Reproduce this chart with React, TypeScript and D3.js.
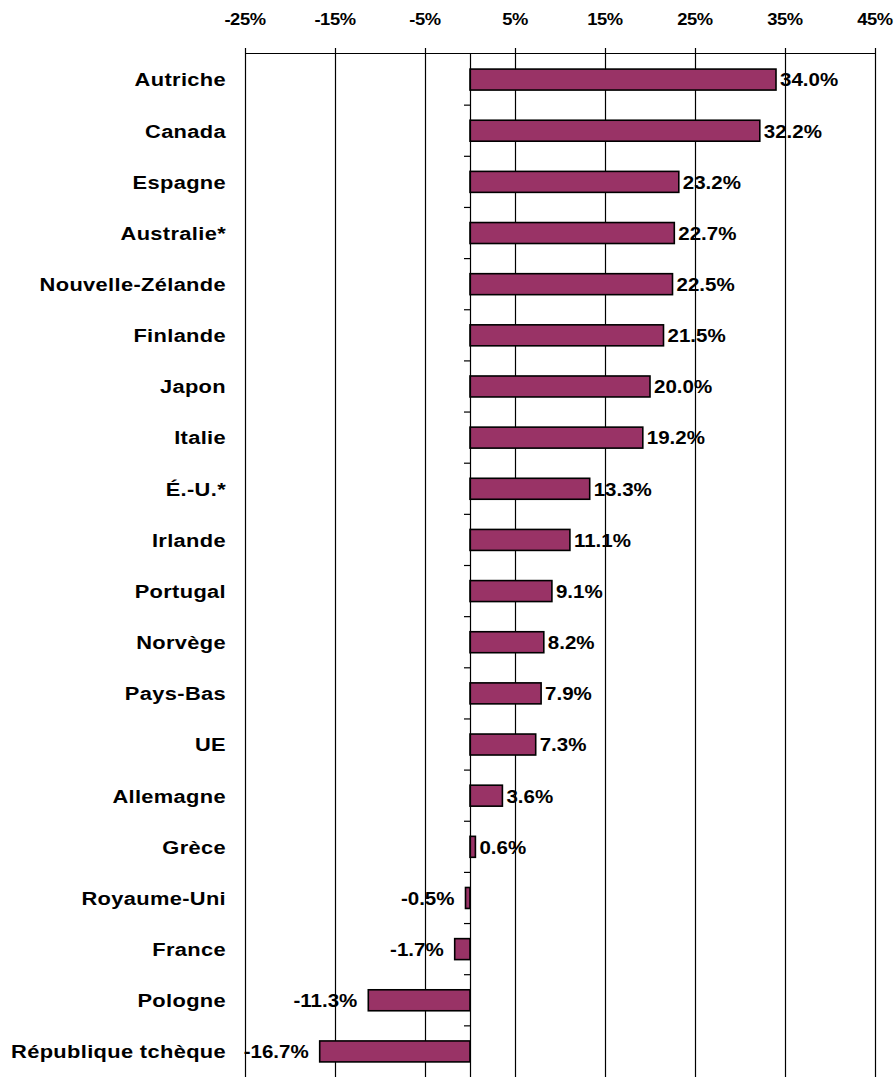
import React, { useEffect, useRef } from 'react'
import * as d3 from 'd3'

const countries = [
    'Autriche', 'Canada', 'Espagne', 'Australie*', 'Nouvelle-Zélande', 'Finlande', 'Japon',
    'Italie', 'É.-U.*', 'Irlande', 'Portugal', 'Norvège', 'Pays-Bas', 'UE', 'Allemagne',
    'Grèce', 'Royaume-Uni', 'France', 'Pologne', 'République tchèque'
]
const growth = [
    34.0, 32.2, 23.2, 22.7, 22.5, 21.5, 20.0, 19.2, 13.3, 11.1, 9.1, 8.2, 7.9, 7.3, 3.6,
    0.6, -0.5, -1.7, -11.3, -16.7
]
const tickValues = [-25, -15, -5, 5, 15, 25, 35, 45]

const App = () => {
    const ref = useRef<SVGSVGElement>(null)

    useEffect(() => {
        drawChart()
    }, [])

    const drawChart = () => {
        const width = 896
        const height = 1077
        const top = 53
        const font = '"Liberation Sans", Arial, sans-serif'

        const svg = d3.select(ref.current)
        svg.selectAll('*').remove()

        const x = d3.scaleLinear().domain([-25, 45]).range([245, 875])
        const y = d3.scaleBand<string>()
            .domain(countries)
            .range([top + 1, height])
            .paddingInner(0.59)
            .paddingOuter(0.295)

        // gridlines
        svg.append('g')
            .selectAll('line')
            .data(tickValues)
            .enter()
            .append('line')
            .attr('x1', d => x(d) + 0.5)
            .attr('x2', d => x(d) + 0.5)
            .attr('y1', top - 5)
            .attr('y2', height)
            .attr('stroke', '#000')
            .attr('stroke-width', 1.2)

        // top axis line
        svg.append('line')
            .attr('x1', x(-25))
            .attr('x2', x(45) + 1)
            .attr('y1', top + 0.5)
            .attr('y2', top + 0.5)
            .attr('stroke', '#000')
            .attr('stroke-width', 1.2)

        svg.append('g')
            .selectAll('text')
            .data(tickValues)
            .enter()
            .append('text')
            .text(d => `${d}%`)
            .attr('transform', d => `translate(${x(d)},25) scale(1.08,1)`)
            .attr('text-anchor', 'middle')
            .attr('font-family', font)
            .attr('font-weight', 'bold')
            .attr('font-size', 17)
            .attr('letter-spacing', -0.4)

        // bars
        const data = countries.map((c, i) => ({ c, v: growth[i] }))
        svg.append('g')
            .selectAll('rect')
            .data(data)
            .enter()
            .append('rect')
            .attr('x', d => x(Math.min(0, d.v)))
            .attr('y', d => y(d.c)!)
            .attr('width', d => Math.abs(x(d.v) - x(0)))
            .attr('height', y.bandwidth())
            .attr('fill', '#993366')
            .attr('stroke', '#000')
            .attr('stroke-width', 1.6)

        // zero axis with minor ticks
        svg.append('line')
            .attr('x1', x(0) + 0.5)
            .attr('x2', x(0) + 0.5)
            .attr('y1', top)
            .attr('y2', height)
            .attr('stroke', '#000')
            .attr('stroke-width', 1.2)
        svg.append('g')
            .selectAll('line')
            .data(countries.slice(1))
            .enter()
            .append('line')
            .attr('x1', x(0) - 6)
            .attr('x2', x(0))
            .attr('y1', d => y(d)! - y.step() * 0.295)
            .attr('y2', d => y(d)! - y.step() * 0.295)
            .attr('stroke', '#000')
            .attr('stroke-width', 1.2)

        // category labels
        svg.append('g')
            .selectAll('text')
            .data(countries)
            .enter()
            .append('text')
            .text(d => d)
            .attr('transform', d => `translate(226,${y(d)! + y.bandwidth() / 2}) scale(1.15,1)`)
            .attr('dy', '0.36em')
            .attr('text-anchor', 'end')
            .attr('font-family', font)
            .attr('font-weight', 'bold')
            .attr('font-size', 19)
            .attr('letter-spacing', 0.3)

        // value labels
        svg.append('g')
            .selectAll('text')
            .data(data)
            .enter()
            .append('text')
            .text(d => `${d.v.toFixed(1)}%`)
            .attr('transform', d => {
                const tx = d.v >= 0 ? x(d.v) + 4 : x(d.v) - 11
                return `translate(${tx},${y(d.c)! + y.bandwidth() / 2}) scale(1.08,1)`
            })
            .attr('dy', '0.36em')
            .attr('text-anchor', d => d.v >= 0 ? 'start' : 'end')
            .attr('font-family', font)
            .attr('font-weight', 'bold')
            .attr('font-size', 19)
            .attr('letter-spacing', 0)
    }

    return (
        <svg ref={ref} width={896} height={1077}
            style={{ position: 'absolute', left: 0, top: 0, background: '#fff' }} />
    )
}

export default App
